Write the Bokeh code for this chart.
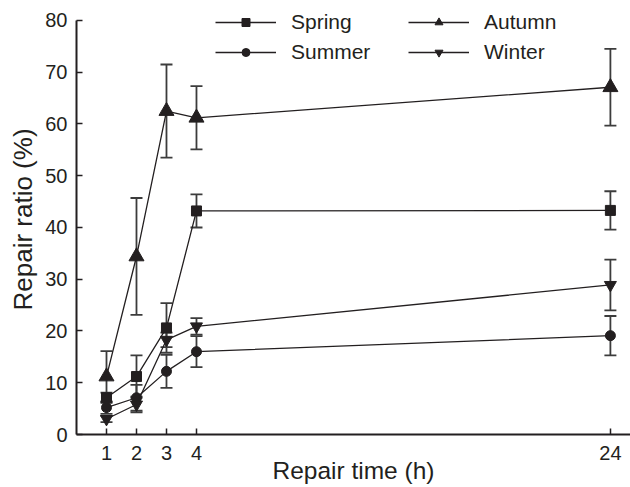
import numpy as np
from bokeh.plotting import figure
from bokeh.models import (ColumnDataSource, Whisker, TeeHead, FixedTicker, Range1d,
                          Legend, LegendItem, LinearAxis)
from bokeh.embed import file_html
from bokeh.resources import INLINE

# ---- data ----
hours = [1, 2, 3, 4, 24]
tick_labels = ["1", "2", "3", "4", "24"]
y_ticks = [0, 10, 20, 30, 40, 50, 60, 70, 80]

spring = [7.1, 11.2, 20.6, 43.2, 43.3]
spring_err = [1.0, 4.1, 4.8, 3.2, 3.7]
summer = [5.2, 7.1, 12.2, 16.0, 19.1]
summer_err = [1.2, 2.5, 3.2, 3.0, 3.8]
autumn = [11.2, 34.4, 62.5, 61.2, 67.1]
autumn_err = [4.9, 11.3, 9.0, 6.1, 7.4]
winter = [3.0, 5.8, 18.3, 20.9, 28.9]
winter_err = [0.6, 1.5, 1.4, 1.6, 4.9]

# broken time axis: hours 0-4 at full scale, later hours compressed
BREAK = 4.0
COMPRESS = 0.69


def xpos(h):
    h = np.asarray(h, dtype=float)
    return np.where(h <= BREAK, h, BREAK + (h - BREAK) * COMPRESS)


INK = "#231f20"
ERR = "#3c3c3c"
FONT = "Liberation Sans"

p = figure(width=630, height=487, output_backend="svg", toolbar_location=None,
           x_range=Range1d(0, 18.47), y_range=Range1d(0, 83.09),
           min_border_left=76, min_border_right=0, min_border_top=4, min_border_bottom=53)
p.outline_line_color = None
p.xgrid.visible = False
p.ygrid.visible = False
p.background_fill_color = "white"

xp = xpos(hours)
p.xaxis.ticker = FixedTicker(ticks=[float(v) for v in xp])
p.xaxis.major_label_overrides = {float(v): t for v, t in zip(xp, tick_labels)}
p.yaxis.ticker = FixedTicker(ticks=y_ticks)
p.yaxis.bounds = (0, 80)

for ax in (p.xaxis[0], p.yaxis[0]):
    ax.axis_line_color = INK
    ax.axis_line_width = 2
    ax.major_tick_line_color = INK
    ax.major_tick_line_width = 1.5
    ax.major_tick_in = 6
    ax.major_tick_out = 0
    ax.minor_tick_line_color = None
    ax.major_label_text_font = FONT
    ax.major_label_text_font_size = "20px"
    ax.major_label_text_color = INK
    ax.major_label_standoff = 9
    ax.axis_label_text_font = FONT
    ax.axis_label_text_font_style = "normal"
    ax.axis_label_text_color = INK

p.xaxis.major_label_standoff = 11
p.xaxis.axis_label = "Repair time (h)"
p.xaxis.axis_label_text_font_size = "24.5px"
p.xaxis.axis_label_standoff = -6

# y title on a bare companion axis so it can sit where the reference has it
ytitle = LinearAxis(axis_label="Repair ratio (%)", ticker=FixedTicker(ticks=[]),
                    bounds=(3.4, 80), axis_line_color=None, major_tick_line_color=None,
                    minor_tick_line_color=None, axis_label_standoff=5,
                    axis_label_text_font=FONT, axis_label_text_font_size="26px",
                    axis_label_text_font_style="normal", axis_label_text_color=INK)
p.add_layout(ytitle, "left")

series = [
    ("Spring", spring, spring_err, "square", 10),
    ("Summer", summer, summer_err, "circle", 10),
    ("Autumn", autumn, autumn_err, "triangle", 15),
    ("Winter", winter, winter_err, "inverted_triangle", 12),
]

items = {}
for name, vals, errs, marker, size in series:
    v = np.array(vals)
    e = np.array(errs)
    src = ColumnDataSource(dict(x=xp, y=v, upper=v + e, lower=v - e))
    w = Whisker(base="x", upper="upper", lower="lower", source=src,
                line_color=ERR, line_width=1.8,
                upper_head=TeeHead(size=12, line_color=ERR, line_width=1.8),
                lower_head=TeeHead(size=12, line_color=ERR, line_width=1.8))
    p.add_layout(w)
    lr = p.line("x", "y", source=src, line_color=INK, line_width=1.3)
    sr = p.scatter("x", "y", source=src, marker=marker, size=size,
                   fill_color=INK, line_color=INK)
    items[name] = LegendItem(label=name, renderers=[lr, sr])


def make_legend(names, loc):
    lg = Legend(items=[items[n] for n in names], location=loc,
                orientation="vertical", padding=0, margin=0, spacing=6,
                glyph_width=61, glyph_height=20, label_height=20,
                label_standoff=15, label_text_font=FONT,
                label_text_font_size="21px", label_text_color=INK,
                border_line_alpha=0, background_fill_alpha=0)
    p.add_layout(lg)


make_legend(["Spring", "Summer"], (139, 370))
make_legend(["Autumn", "Winter"], (332, 370))

open("out.html", "w").write(file_html(p, INLINE))
